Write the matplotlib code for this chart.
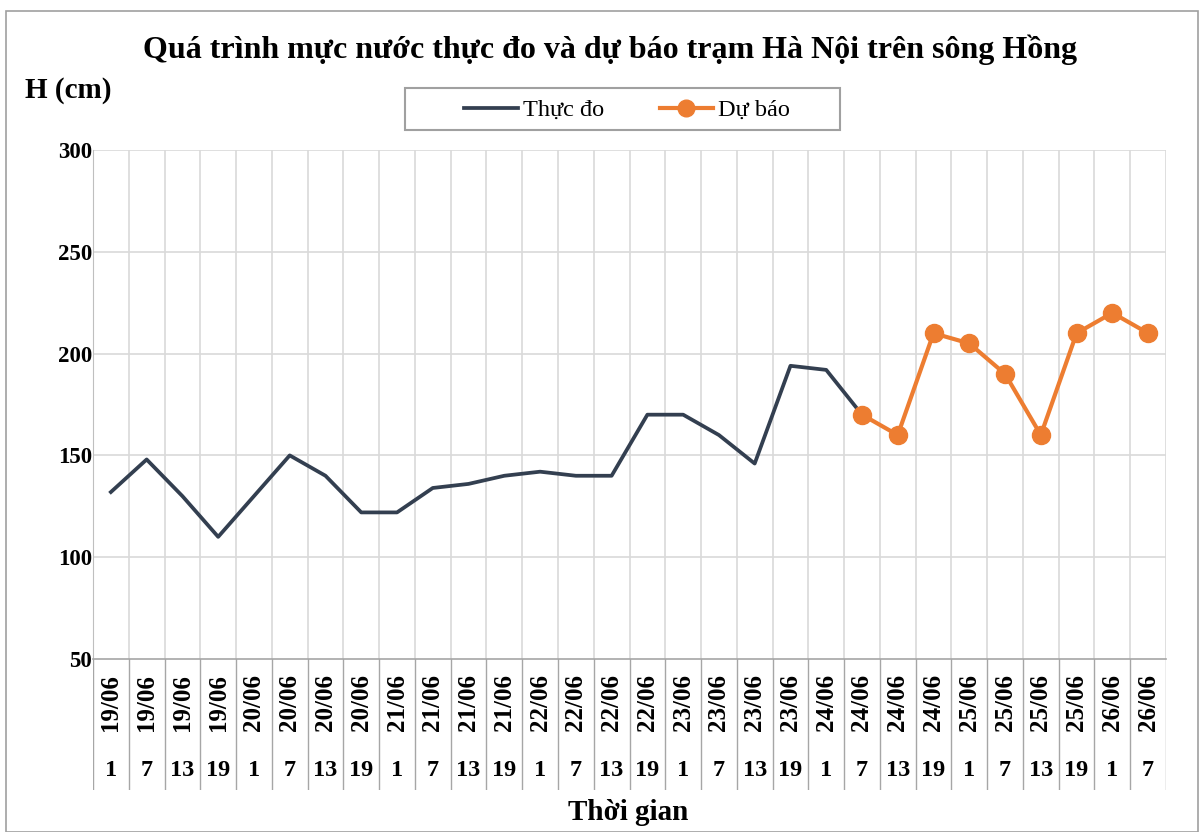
import matplotlib
matplotlib.use("Agg")
import matplotlib.pyplot as plt
from matplotlib.lines import Line2D
from matplotlib.patches import Rectangle

plt.rcParams['font.family'] = ['Liberation Serif', 'DejaVu Serif']

# data
dates = ["19/06"] * 4 + ["20/06"] * 4 + ["21/06"] * 4 + ["22/06"] * 4 + \
        ["23/06"] * 4 + ["24/06"] * 4 + ["25/06"] * 4 + ["26/06"] * 2
hours = ["1", "7", "13", "19"] * 7 + ["1", "7"]
thuc_do = [132, 148, 130, 110, 130, 150, 140, 122, 122, 134, 136, 140,
           142, 140, 140, 170, 170, 160, 146, 194, 192, 170]
du_bao = [170, 160, 210, 205, 190, 160, 210, 220, 210]
forecast_start = 21

W, H = 1204, 832
fig = plt.figure(figsize=(W / 100, H / 100), dpi=100)

def box(x0, y0, x1, y1):
    return [x0 / W, 1 - y1 / H, (x1 - x0) / W, (y1 - y0) / H]

# outer chart border
fig.patches.append(Rectangle((6 / W, 0), (W - 12) / W, 1 - 11 / H, transform=fig.transFigure,
                             fill=False, edgecolor="#A0A0A0", linewidth=1.2))

n = len(hours)
grid_c = "#D9D9D9"
ax = fig.add_axes(box(93, 150, 1166, 659))
x_obs = list(range(len(thuc_do)))
x_fc = list(range(forecast_start, forecast_start + len(du_bao)))
ax.plot(x_obs, thuc_do, color="#333F50", linewidth=2.7, zorder=3)
ax.plot(x_fc, du_bao, color="#ED7D31", linewidth=3.0, marker="o", markersize=13, zorder=4)

ax.set_xlim(-0.5, n - 0.5)
ax.set_ylim(50, 300)
ax.set_yticks([50, 100, 150, 200, 250, 300])
for v in [100, 150, 200, 250, 300]:
    ax.axhline(v, color=grid_c, linewidth=1.2, zorder=1)
for k in range(n):
    ax.axvline(k + 0.5, color=grid_c, linewidth=1.2, zorder=1)
ax.set_xticks([])
ax.tick_params(axis="y", length=0, pad=0.5, labelsize=16.5)
for lab in ax.get_yticklabels():
    lab.set_fontweight("bold")
for s in ["top", "right"]:
    ax.spines[s].set_visible(False)
ax.spines["left"].set_color("#BFBFBF")
ax.spines["bottom"].set_color("#A6A6A6")
ax.spines["bottom"].set_linewidth(1.2)

# two-level category axis below the plot
lx = fig.add_axes(box(93, 659, 1166, 790))
lx.set_xlim(-0.5, n - 0.5)
lx.set_ylim(0, 1)
lx.axis("off")
for k in range(n + 1):
    lx.plot([k - 0.5, k - 0.5], [0, 1], color="#A6A6A6", linewidth=1.0)
for k in range(n):
    lx.text(k, 0.67, dates[k], rotation=90, ha="center", va="center",
            fontsize=18, fontweight="bold")
    lx.text(k, 0.15, hours[k], ha="center", va="center", fontsize=17.5, fontweight="bold")

fig.text(610 / W, 1 - 50 / H, "Quá trình mực nước thực đo và dự báo trạm Hà Nội trên sông Hồng",
         ha="center", va="center", fontsize=23, fontweight="bold")
fig.text(25 / W, 1 - 90 / H, "H (cm)", ha="left", va="center", fontsize=21, fontweight="bold")
fig.text(628 / W, 1 - 812 / H, "Thời gian", ha="center", va="center", fontsize=21, fontweight="bold")

# legend: frameless entries inside a separately drawn box
fig.patches.append(Rectangle((405 / W, 1 - 130 / H), 435 / W, 42 / H, transform=fig.transFigure,
                             fill=False, edgecolor="#A0A0A0", linewidth=1.5))
handles = [Line2D([], [], color="#333F50", linewidth=2.7),
           Line2D([], [], color="#ED7D31", linewidth=3.0, marker="o", markersize=12)]
fig.legend(handles, ["Thực đo", "Dự báo"], loc="center", ncol=2,
           bbox_to_anchor=(627 / W, 1 - 110 / H), frameon=False,
           fontsize=17.5, handlelength=2.2, columnspacing=2.3, borderpad=0,
           handletextpad=0.2, borderaxespad=0)

fig.savefig("out.png", dpi=100)
